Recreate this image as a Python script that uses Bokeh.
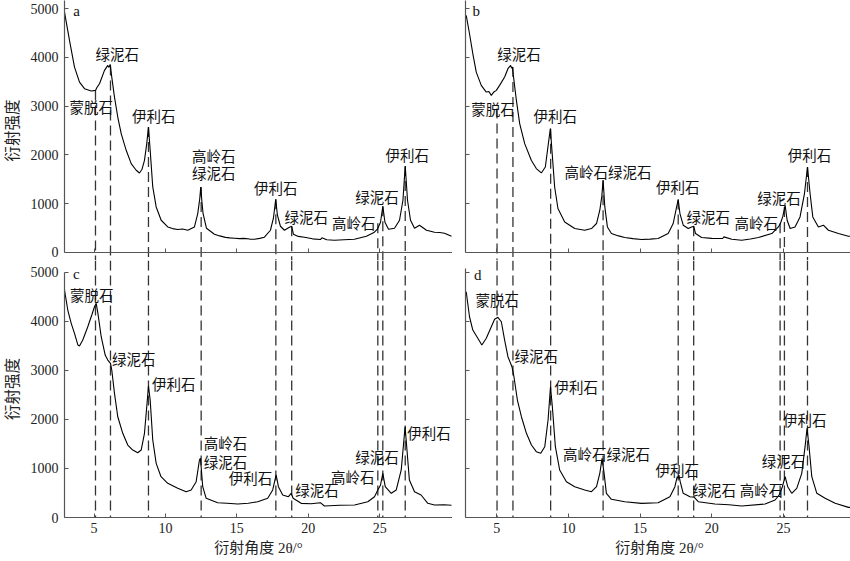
from bokeh.plotting import figure
from bokeh.layouts import column, row
from bokeh.models import Range1d, FixedTicker
from bokeh.core.properties import value
from bokeh.embed import file_html
from bokeh.resources import INLINE

# ---------------- data ----------------
x_ticks = [5, 10, 15, 20, 25]
y_ticks = [0, 1000, 2000, 3000, 4000, 5000]

# panel a
a_x = [2.93, 3.28, 3.63, 3.98, 4.33, 4.8, 5.1, 5.2, 5.38, 5.73, 5.96, 6.04, 6.13, 6.24, 6.43, 6.66, 6.9,
       7.25, 7.6, 7.95, 8.18, 8.35, 8.53, 8.69, 8.81, 8.93, 9.11, 9.35, 9.7, 10.16, 10.5, 10.86, 11.2, 11.56,
       12.03, 12.26, 12.4, 12.47, 12.55, 12.63, 12.87, 13.43, 13.8, 14.2, 14.5, 14.83, 15.2, 15.5, 15.9, 16.23,
       16.6, 16.93, 17.35, 17.56, 17.72, 17.84, 18.05, 18.33, 18.68, 18.84, 18.96, 19.3, 19.73, 20.3, 20.85,
       20.95, 21.3, 21.83, 22.5, 23.23, 24.07, 24.63, 24.84, 25.06, 25.22, 25.37, 25.62, 26.04, 26.39, 26.63,
       26.79, 26.95, 27.16, 27.44, 27.79, 28.28, 28.84, 29.2, 29.54, 30.03]
a_y = [4925, 4346, 3800, 3492, 3357, 3308, 3322, 3380, 3459, 3732, 3834, 3793, 3855, 3595, 3185, 2776, 2436,
       2094, 1822, 1685, 1629, 1700, 1889, 2231, 2571, 2094, 1343, 933, 661, 524, 490, 471, 480, 456,
       524, 798, 1100, 1343, 1050, 804, 497, 375, 340, 310, 300, 293, 285, 290, 275, 272,
       290, 313, 456, 702, 1091, 764, 538, 456, 518, 538, 375, 330, 313, 280, 266,
       300, 260, 252, 262, 272, 334, 416, 477, 620, 948, 620, 477, 497, 661, 1071,
       1773, 1071, 661, 497, 559, 456, 416, 410, 395, 334]

# panel b
b_x = [2.87, 3.1, 3.33, 3.57, 3.92, 4.27, 4.45, 4.62, 4.8, 4.97, 5.2, 5.55, 5.78, 5.97, 6.03, 6.09, 6.2,
       6.37, 6.6, 6.95, 7.41, 7.76, 8.11, 8.39, 8.57, 8.74, 8.85, 9.04, 9.27, 9.74, 10.44, 11.14, 11.61,
       11.96, 12.19, 12.33, 12.42, 12.54, 12.72, 13.0, 13.5, 13.93, 14.5, 15.1, 15.7, 16.26, 16.96, 17.31,
       17.55, 17.66, 17.78, 18.01, 18.36, 18.6, 18.74, 18.87, 19.29, 20.0, 20.76, 20.85, 21.4, 22.09, 22.7,
       23.25, 24.19, 24.65, 24.79, 24.95, 25.12, 25.26, 25.47, 25.81, 26.16, 26.47, 26.68, 26.86, 27.05,
       27.44, 27.79, 28.14, 28.84, 29.54, 29.96]
b_y = [4858, 4483, 4074, 3697, 3425, 3288, 3300, 3220, 3290, 3322, 3425, 3595, 3766, 3834, 3780, 3800, 3527,
       3117, 2641, 2231, 1889, 1720, 1630, 1752, 2162, 2538, 2094, 1343, 901, 626, 491, 456, 491,
       594, 866, 1150, 1480, 934, 524, 389, 340, 307, 285, 266, 275, 287, 389, 594,
       934, 1085, 798, 559, 491, 524, 538, 389, 307, 290, 287, 320, 270, 252, 275,
       307, 389, 524, 594, 729, 968, 661, 491, 524, 729, 1208, 1752, 1208, 729,
       524, 559, 456, 389, 334, 334]

# panel c
c_x = [2.93, 3.16, 3.4, 3.63, 3.87, 3.98, 4.21, 4.56, 4.84, 5.03, 5.15, 5.27, 5.5, 5.78, 5.96, 6.15, 6.24,
       6.43, 6.66, 7.01, 7.36, 7.71, 8.06, 8.3, 8.53, 8.69, 8.81, 8.93, 9.11, 9.35, 9.69, 10.16, 10.86,
       11.45, 11.8, 12.15, 12.38, 12.45, 12.61, 12.85, 13.66, 14.3, 15.06, 15.8, 16.46, 17.16, 17.51, 17.75,
       17.91, 18.21, 18.61, 18.8, 18.94, 19.5, 20.2, 20.85, 21.13, 22.2, 23.24, 24.17, 24.64, 24.87, 25.06,
       25.22, 25.39, 25.81, 26.16, 26.51, 26.78, 26.93, 27.08, 27.44, 27.9, 28.37, 28.84, 29.5, 30.03]
c_y = [4639, 4231, 3960, 3756, 3517, 3497, 3619, 3890, 4129, 4298, 4367, 4163, 3687, 3313, 3211, 3144, 3008,
       2532, 2055, 1717, 1478, 1376, 1321, 1376, 1717, 2259, 2681, 2396, 1580, 1105, 832, 697, 595,
       526, 561, 730, 1172, 1207, 628, 391, 302, 290, 275, 290, 322, 391, 561, 867,
       628, 459, 424, 493, 391, 289, 280, 302, 234, 250, 255, 322, 424, 561, 663,
       901, 628, 493, 561, 969, 1851, 1309, 765, 526, 459, 289, 255, 260, 250]

# panel d
d_x = [2.87, 3.1, 3.33, 3.68, 3.96, 4.27, 4.62, 4.85, 5.08, 5.32, 5.55, 5.78, 6.06, 6.2, 6.44, 6.72, 7.07,
       7.42, 7.76, 8.07, 8.35, 8.58, 8.75, 8.88, 9.09, 9.39, 9.86, 10.44, 11.14, 11.61, 11.96, 12.19, 12.35,
       12.49, 12.65, 13.0, 13.93, 15.1, 16.26, 17.08, 17.43, 17.59, 17.66, 17.71, 17.8, 18.01, 18.48, 18.78,
       19.06, 20.22, 21.2, 22.09, 23.72, 24.42, 24.7, 24.93, 25.12, 25.3, 25.58, 25.93, 26.28, 26.51, 26.65,
       26.79, 26.98, 27.33, 27.91, 28.61, 29.54, 29.89]
d_y = [4604, 4094, 3823, 3654, 3517, 3654, 3890, 4041, 4082, 3992, 3619, 3279, 3075, 2871, 2396, 2055, 1717,
       1478, 1342, 1309, 1444, 1988, 2667, 2259, 1444, 969, 730, 628, 561, 526, 628, 901, 1207,
       901, 493, 371, 322, 289, 302, 424, 628, 832, 800, 867, 730, 493, 424, 412,
       322, 275, 260, 234, 275, 357, 459, 628, 832, 628, 493, 595, 901, 1444, 1819,
       1444, 832, 493, 391, 289, 207, 207]

# dashed reference lines (2theta) and where they start in the top panels
left_lines_x = [5.1, 6.15, 8.81, 12.5, 17.73, 18.84, 24.87, 25.22, 26.79]
left_lines_top = [3322, 3834, 2571, 1343, 1091, 538, 600, 948, 1773]
right_lines_x = [5.02, 6.13, 8.76, 12.42, 17.66, 18.74, 24.77, 25.07, 26.68]
right_lines_top = [2950, 3800, 2538, 1480, 1085, 538, 600, 934, 1752]

# mineral labels
a_labels = ["绿泥石", "蒙脱石", "伊利石", "高岭石", "绿泥石", "伊利石", "绿泥石", "高岭石", "绿泥石", "伊利石"]
a_lx = [6.62, 4.8, 9.18, 13.38, 13.38, 17.72, 19.85, 23.19, 24.82, 26.93]
a_ly = [4073, 2995, 2810, 1992, 1630, 1337, 743, 606, 1138, 2012]

b_labels = ["绿泥石", "蒙脱石", "伊利石", "高岭石绿泥石", "伊利石", "绿泥石", "高岭石", "绿泥石", "伊利石"]
b_lx = [6.55, 4.73, 9.09, 12.77, 17.62, 19.76, 23.1, 24.7, 26.82]
b_ly = [4073, 2948, 2810, 1650, 1343, 729, 606, 1126, 2012]

c_labels = ["蒙脱石", "绿泥石", "伊利石", "高岭石", "绿泥石", "伊利石", "绿泥石", "高岭石", "绿泥石", "伊利石"]
c_lx = [4.84, 7.78, 10.58, 14.2, 14.2, 15.95, 20.62, 23.12, 24.82, 28.45]
c_ly = [4551, 3246, 2736, 1525, 1152, 820, 561, 832, 1240, 1743]

d_labels = ["蒙脱石", "绿泥石", "伊利石", "高岭石绿泥石", "伊利石", "绿泥石", "高岭石", "绿泥石", "伊利石"]
d_lx = [5.04, 7.76, 10.55, 12.66, 17.59, 20.18, 23.48, 25.0, 26.49]
d_ly = [4449, 3313, 2681, 1295, 969, 575, 575, 1172, 2002]

panel_letters = ["a", "b", "c", "d"]
letter_x = [3.77, 3.57, 3.75, 3.68]
letter_y = [4946, 4946, 4965, 4945]

x_title = "衍射角度 2θ/°"
y_title = "衍射强度"

# ---------------- styling / layout ----------------
CJK = "Noto Sans CJK SC"
SERIF = "Liberation Serif"
MIXED = "'Liberation Serif', 'Noto Sans CJK SC'"
LEFT_XR = (2.93, 30.1)
RIGHT_XR = (2.82, 29.89)
TOP_YR = (-164, 5164)
TOP_BOUNDS = (0, 5164)
BOT_YR = (0, 5241)
FW = 388
FH_TOP = 260
FH_BOT = 257
AXIS_COLOR = "#555555"
DASH_COLOR = "#333333"


def make_fig(xr, yr, fh, left_border, bottom_border, show_xlab, show_ylab, ybounds, top_row):
    p = figure(frame_width=FW, frame_height=fh,
               x_range=Range1d(*xr), y_range=Range1d(*yr),
               output_backend="svg", toolbar_location=None,
               min_border_left=left_border, min_border_right=0,
               min_border_top=0, min_border_bottom=bottom_border,
               background_fill_color="white", border_fill_color="white")
    p.grid.visible = False
    p.outline_line_color = None
    for ax in (p.xaxis[0], p.yaxis[0]):
        ax.axis_line_color = AXIS_COLOR
        ax.axis_line_width = 1.2
        ax.major_tick_line_color = AXIS_COLOR
        ax.major_tick_in = 4
        ax.major_tick_out = 0
        ax.minor_tick_in = 0
        ax.minor_tick_out = 0
        ax.major_label_text_font = SERIF
        ax.major_label_text_color = "#222222"
        ax.axis_label_text_font = MIXED
        ax.axis_label_text_font_style = "normal"
        ax.axis_label_text_color = "#222222"
    p.xaxis[0].ticker = FixedTicker(ticks=x_ticks, minor_ticks=[])
    p.yaxis[0].ticker = FixedTicker(ticks=y_ticks, minor_ticks=[])
    if show_xlab:
        p.xaxis[0].major_label_text_font_size = "14px"
        p.xaxis[0].major_label_standoff = 5
        p.xaxis[0].axis_label = x_title
        p.xaxis[0].axis_label_text_font_size = "15px"
        p.xaxis[0].axis_label_standoff = 4
    else:
        p.xaxis[0].major_label_overrides = {t: "" for t in x_ticks}
        p.xaxis[0].major_label_text_font_size = "0px"
        p.xaxis[0].major_label_standoff = 0
    if show_ylab:
        p.yaxis[0].major_label_text_font_size = "14px"
        p.yaxis[0].major_label_standoff = 6
        p.yaxis[0].axis_label = y_title
        p.yaxis[0].axis_label_text_font_size = "15.5px"
        p.yaxis[0].axis_label_standoff = 7
    else:
        p.yaxis[0].major_label_overrides = {t: "" for t in y_ticks}
        p.yaxis[0].major_label_text_font_size = "0px"
        p.yaxis[0].major_label_standoff = 0
    if top_row:
        p.xaxis[0].fixed_location = 0
    p.yaxis[0].bounds = ybounds
    return p


def draw(p, xs, ys, lx, ly, labels, letter, letx, lety, lines_x, lines_y0, lines_y1):
    p.segment(x0=lines_x, x1=lines_x, y0=lines_y0, y1=lines_y1,
              line_color=DASH_COLOR, line_width=1.3, line_dash="10 5")
    p.line(xs, ys, line_color="black", line_width=1.1)
    p.text(x=lx, y=ly, text=labels, text_font=value(CJK), text_font_size="14.5px",
           text_align="center", text_baseline="middle", text_color="#111111")
    p.text(x=[letx], y=[lety], text=[letter], text_font=value(SERIF), text_font_size="15px",
           text_align="center", text_baseline="middle", text_color="#111111")


fa = make_fig(LEFT_XR, TOP_YR, FH_TOP, 60, 0, False, True, TOP_BOUNDS, True)
fb = make_fig(RIGHT_XR, TOP_YR, FH_TOP, 13, 0, False, False, TOP_BOUNDS, True)
fc = make_fig(LEFT_XR, BOT_YR, FH_BOT, 60, 43, True, True, (0, 5000), False)
fd = make_fig(RIGHT_XR, BOT_YR, FH_BOT, 13, 43, True, False, (0, 5080), False)

n = len(left_lines_x)
draw(fa, a_x, a_y, a_lx, a_ly, a_labels, panel_letters[0], letter_x[0], letter_y[0],
     left_lines_x, left_lines_top, [TOP_YR[0]] * n)
draw(fb, b_x, b_y, b_lx, b_ly, b_labels, panel_letters[1], letter_x[1], letter_y[1],
     right_lines_x, right_lines_top, [TOP_YR[0]] * n)
draw(fc, c_x, c_y, c_lx, c_ly, c_labels, panel_letters[2], letter_x[2], letter_y[2],
     left_lines_x, [BOT_YR[1]] * n, [BOT_YR[0]] * n)
draw(fd, d_x, d_y, d_lx, d_ly, d_labels, panel_letters[3], letter_x[3], letter_y[3],
     right_lines_x, [BOT_YR[1]] * n, [BOT_YR[0]] * n)

layout = column(row(fa, fb), row(fc, fd))

open("out.html", "w").write(file_html(layout, INLINE))
